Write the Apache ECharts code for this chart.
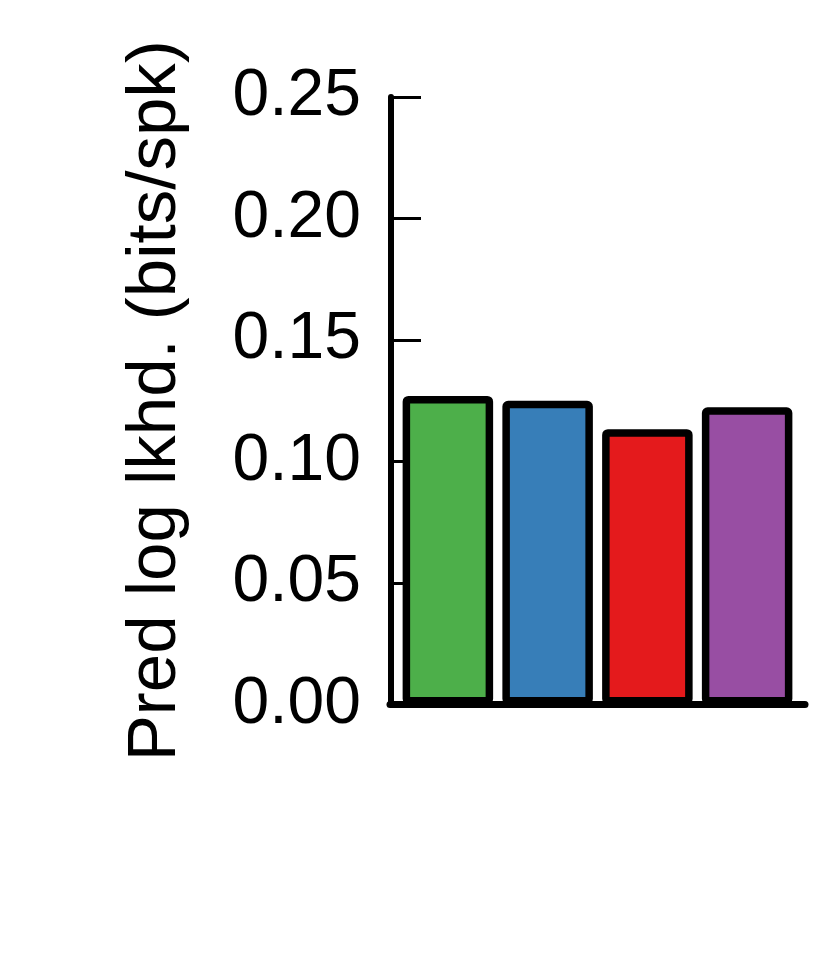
<!DOCTYPE html>
<html>
<head>
<meta charset="utf-8">
<script src="https://cdn.jsdelivr.net/npm/echarts@6/dist/echarts.min.js"></script>
<style>
	html, body { margin: 0; padding: 0; background: #fff; }
	#chart { width: 830px; height: 969px; }
</style>
</head>
<body>
<div id="chart"></div>
<script>
	// data
	var categories = ['A', 'B', 'C', 'D'];
	var values = [0.1270, 0.1250, 0.1133, 0.1223];
	var barColors = ['#4daf4a', '#377eb8', '#e41a1c', '#984ea3'];
	var yTicks = [0, 0.05, 0.10, 0.15, 0.20, 0.25];
	var yName = 'Pred log lkhd. (bits/spk)';

	var font = 'Liberation Sans, Arial, Helvetica, sans-serif';
	var chart = echarts.init(document.getElementById('chart'));

	var option = {
		animation: false,
		grid: [
			{ left: 398, right: 33, top: 97, bottom: 264.5 },
			// only used for the long x axis line
			{ left: 390, right: 25, top: 97, bottom: 264.5 }
		],
		xAxis: [{
			type: 'category',
			gridIndex: 0,
			data: categories,
			axisLine: { show: false },
			axisTick: { show: false },
			axisLabel: { show: false }
		}, {
			type: 'value',
			gridIndex: 1,
			axisLine: { show: true, lineStyle: { color: '#000', width: 7 } },
			axisTick: { show: false },
			axisLabel: { show: false },
			splitLine: { show: false }
		}],
		yAxis: [{
			type: 'value',
			gridIndex: 0,
			min: yTicks[0],
			max: yTicks[yTicks.length - 1],
			interval: 0.05,
			offset: 7,
			name: yName,
			nameLocation: 'middle',
			nameGap: 201,
			nameTextStyle: { fontFamily: font, fontSize: 69, color: '#000' },
			axisLine: { show: true, lineStyle: { color: '#000', width: 6 } },
			axisTick: { show: true, inside: true, length: 30, lineStyle: { color: '#000', width: 3 } },
			axisLabel: {
				margin: 30,
				fontFamily: font,
				fontSize: 66,
				color: '#000',
				formatter: function(v) { return v.toFixed(2); }
			},
			splitLine: { show: false }
		}, {
			type: 'value',
			gridIndex: 1,
			show: false
		}],
		series: [{
			type: 'bar',
			xAxisIndex: 0,
			yAxisIndex: 0,
			barWidth: 90.5,
			data: values.map(function(v, i) {
				return {
					value: v,
					itemStyle: { color: barColors[i] }
				};
			}),
			itemStyle: {
				borderColor: '#000',
				borderWidth: 7.5,
				borderJoin: 'round',
				borderRadius: 2
			}
		}]
	};

	chart.setOption(option);
</script>
</body>
</html>
